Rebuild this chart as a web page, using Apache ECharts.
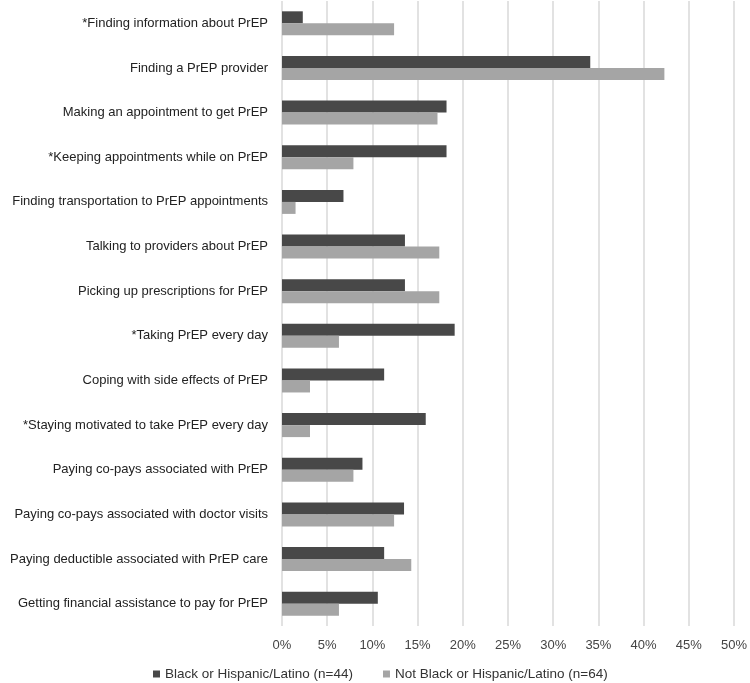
<!DOCTYPE html>
<html>
<head>
<meta charset="utf-8">
<script src="https://cdn.jsdelivr.net/npm/echarts@6/dist/echarts.min.js"></script>
<style>html,body{margin:0;padding:0;background:#fff;}#c{width:750px;height:683px;}</style>
</head>
<body>
<div id="c"></div>
<script>
var categories = [
  "*Finding information about PrEP",
  "Finding a PrEP provider",
  "Making an appointment to get PrEP",
  "*Keeping appointments while on PrEP",
  "Finding transportation to PrEP appointments",
  "Talking to providers about PrEP",
  "Picking up prescriptions for PrEP",
  "*Taking PrEP every day",
  "Coping with side effects of PrEP",
  "*Staying motivated to take PrEP every day",
  "Paying co-pays associated with PrEP",
  "Paying co-pays associated with doctor visits",
  "Paying deductible associated with PrEP care",
  "Getting financial assistance to pay for PrEP"
];
var seriesNames = ["Black or Hispanic/Latino (n=44)", "Not Black or Hispanic/Latino (n=64)"];
var blackHispanic = [2.3, 34.1, 18.2, 18.2, 6.8, 13.6, 13.6, 19.1, 11.3, 15.9, 8.9, 13.5, 11.3, 10.6];
var notBlackHispanic = [12.4, 42.3, 17.2, 7.9, 1.5, 17.4, 17.4, 6.3, 3.1, 3.1, 7.9, 12.4, 14.3, 6.3];
var xMin = 0, xMax = 50, xStep = 5;

var chart = echarts.init(document.getElementById('c'));
var font = '"Liberation Sans", Arial, Helvetica, sans-serif';
chart.setOption({
  animation: false,
  backgroundColor: '#ffffff',
  textStyle: { fontFamily: font },
  grid: { left: 282, right: 14, top: 1, bottom: 57, containLabel: false },
  legend: {
    data: seriesNames,
    left: 148,
    top: 662,
    itemWidth: 7,
    itemHeight: 7,
    itemGap: 30,
    icon: 'rect',
    textStyle: { fontFamily: font, fontSize: 13.5, color: '#333' }
  },
  xAxis: {
    type: 'value',
    min: xMin, max: xMax, interval: xStep,
    axisLine: { show: false },
    axisTick: { show: false },
    splitLine: { show: true, lineStyle: { color: '#d9d9d9', width: 1.5 } },
    axisLabel: { formatter: '{value}%', fontSize: 13, color: '#444', margin: 13, fontFamily: font }
  },
  yAxis: {
    type: 'category',
    data: categories,
    inverse: true,
    axisLine: { show: false },
    axisTick: { show: false },
    axisLabel: { fontSize: 13, color: '#222', margin: 14, fontFamily: font }
  },
  series: [
    { name: seriesNames[0], type: 'bar', data: blackHispanic, barWidth: 12, barGap: '0%',
      itemStyle: { color: '#484848' } },
    { name: seriesNames[1], type: 'bar', data: notBlackHispanic, barWidth: 12, barGap: '0%',
      itemStyle: { color: '#a5a5a5' } }
  ]
});
</script>
</body>
</html>
